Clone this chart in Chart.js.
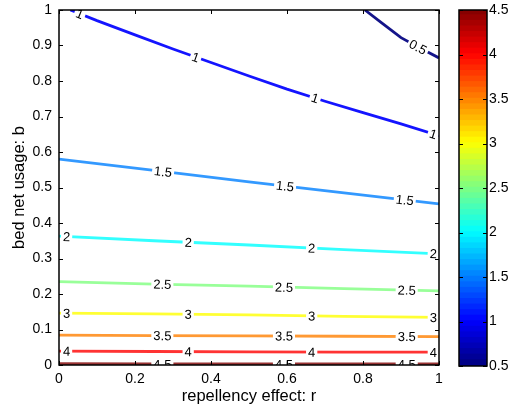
<!DOCTYPE html>
<html>
<head>
<title>contour</title>
<script src="https://cdn.jsdelivr.net/npm/chart.js@4.4.0/dist/chart.umd.min.js"></script>
<style>
body{margin:0;background:#fff;}
#wrap{position:relative;width:510px;height:411px;}
#wrap canvas{position:absolute;top:0;}
</style>
</head>
<body>
<div id="wrap">
<canvas id="plot" width="510" height="411" style="left:0"></canvas>
<canvas id="cbar" width="70" height="411" style="left:440px"></canvas>
</div>
<script>
// contour levels and the traced lines (r on x, b on y)
const levels = [0.5, 1, 1.5, 2, 2.5, 3, 3.5, 4, 4.5];

const r05 = [0.805, 0.85, 0.9, 0.95, 1.0];
const b05 = [1.0, 0.963, 0.922, 0.893, 0.865];

const r1 = [0.03, 0.1, 0.2, 0.3, 0.4, 0.5, 0.6, 0.7, 0.8, 0.9, 1.0];
const b1 = [1.0, 0.970, 0.930, 0.890, 0.852, 0.814, 0.777, 0.743, 0.711, 0.679, 0.646];

const rGrid = [0, 0.25, 0.5, 0.75, 1];
const b15 = [0.580, 0.548, 0.516, 0.485, 0.454];
const b2  = [0.363, 0.350, 0.338, 0.325, 0.313];
const b25 = [0.235, 0.228, 0.222, 0.215, 0.209];
const b3  = [0.146, 0.144, 0.141, 0.137, 0.134];
const b35 = [0.084, 0.083, 0.082, 0.081, 0.080];
const b4  = [0.039, 0.038, 0.037, 0.036, 0.036];
const b45 = [0.004, 0.003, 0.003, 0.003, 0.003];

// where along r the inline labels sit
const lab05 = [0.945];
const lab1  = [0.055, 0.36, 0.674, 0.985];
const lab15 = [0.274, 0.595, 0.91];
const lab2  = [0.02, 0.34, 0.665, 0.985];
const lab25 = [0.272, 0.592, 0.915];
const lab3  = [0.02, 0.34, 0.665, 0.985];
const lab35 = [0.272, 0.592, 0.915];
const lab4  = [0.02, 0.34, 0.665, 0.985];
const lab45 = [0.272, 0.592, 0.915];

const xTicks = [0, 0.2, 0.4, 0.6, 0.8, 1];
const yTicks = [0, 0.1, 0.2, 0.3, 0.4, 0.5, 0.6, 0.7, 0.8, 0.9, 1];
const cbarTicks = [0.5, 1, 1.5, 2, 2.5, 3, 3.5, 4, 4.5];
const cMin = 0.5, cMax = 4.5;

const FONT = "'Liberation Sans', Arial, sans-serif";

function jet(t, alpha) {
    const c = v => Math.round(255 * Math.max(0, Math.min(1, v)));
    const r = c(1.5 - Math.abs(4 * t - 3));
    const g = c(1.5 - Math.abs(4 * t - 2));
    const b = c(1.5 - Math.abs(4 * t - 1));
    return 'rgba(' + r + ',' + g + ',' + b + ',' + (alpha || 1) + ')';
}
function levelColor(l) { return jet((l - cMin) / (cMax - cMin), l < 1.2 ? 0.92 : 0.8); }
const fmt = v => String(Math.round(v * 10) / 10);

const lineR = [r05, r1, rGrid, rGrid, rGrid, rGrid, rGrid, rGrid, rGrid];
const lineB = [b05, b1, b15, b2, b25, b3, b35, b4, b45];
const labR = [lab05, lab1, lab15, lab2, lab25, lab3, lab35, lab4, lab45];

const datasets = levels.map((l, i) => ({
    label: String(l),
    data: lineR[i].map((r, k) => ({ x: r, y: lineB[i][k] })),
    showLine: true,
    pointRadius: 0,
    borderColor: levelColor(l),
    borderWidth: 2.8,
    tension: 0
}));

function bAt(pts, r) {
    if (r <= pts[0].x) return pts[0].y;
    for (let k = 0; k < pts.length - 1; k++) {
        if (r >= pts[k].x && r <= pts[k + 1].x) {
            const f = (r - pts[k].x) / (pts[k + 1].x - pts[k].x);
            return pts[k].y + f * (pts[k + 1].y - pts[k].y);
        }
    }
    return pts[pts.length - 1].y;
}

const contourLabels = {
    id: 'contourLabels',
    afterDatasetsDraw(chart) {
        const ctx = chart.ctx, xs = chart.scales.x, ys = chart.scales.y, a = chart.chartArea;
        ctx.save();
        ctx.beginPath();
        ctx.rect(a.left, a.top, a.right - a.left, a.bottom - a.top);
        ctx.clip();
        ctx.font = '13px ' + FONT;
        ctx.textAlign = 'center';
        ctx.textBaseline = 'middle';
        chart.data.datasets.forEach((ds, i) => {
            labR[i].forEach(r => {
                const pts = ds.data;
                const px = xs.getPixelForValue(r), py = ys.getPixelForValue(bAt(pts, r));
                const r0 = Math.max(pts[0].x, r - 0.02), r1 = Math.min(pts[pts.length - 1].x, r + 0.02);
                const ang = Math.atan2(ys.getPixelForValue(bAt(pts, r1)) - ys.getPixelForValue(bAt(pts, r0)),
                    xs.getPixelForValue(r1) - xs.getPixelForValue(r0));
                const w = ctx.measureText(ds.label).width;
                ctx.save();
                ctx.translate(px, py);
                ctx.rotate(ang);
                ctx.fillStyle = '#fff';
                ctx.fillRect(-w / 2 - 2, -3, w + 4, 6);
                ctx.fillStyle = '#000';
                ctx.fillText(ds.label, 0, 1);
                ctx.restore();
            });
        });
        ctx.restore();
    }
};

const boxTicks = {
    id: 'boxTicks',
    afterDraw(chart) {
        const ctx = chart.ctx, a = chart.chartArea, xs = chart.scales.x, ys = chart.scales.y;
        const len = 4;
        ctx.save();
        ctx.strokeStyle = '#000';
        ctx.lineWidth = 1;
        ctx.beginPath();
        xTicks.forEach(v => {
            const p = Math.round(xs.getPixelForValue(v)) + 0.5;
            ctx.moveTo(p, a.bottom); ctx.lineTo(p, a.bottom - len);
            ctx.moveTo(p, a.top); ctx.lineTo(p, a.top + len);
        });
        yTicks.forEach(v => {
            const p = Math.round(ys.getPixelForValue(v)) + 0.5;
            ctx.moveTo(a.left, p); ctx.lineTo(a.left + len, p);
            ctx.moveTo(a.right, p); ctx.lineTo(a.right - len, p);
        });
        ctx.stroke();
        ctx.lineWidth = 1.5;
        ctx.strokeRect(a.left, a.top, a.right - a.left, a.bottom - a.top);
        ctx.restore();
    }
};

new Chart(document.getElementById('plot'), {
    type: 'scatter',
    data: { datasets: datasets },
    options: {
        responsive: false,
        animation: false,
        layout: { padding: { top: 10, right: 71, left: 0, bottom: 0 } },
        plugins: { legend: { display: false }, tooltip: { enabled: false } },
        scales: {
            x: {
                type: 'linear', min: 0, max: 1,
                afterBuildTicks: s => { s.ticks = xTicks.map(v => ({ value: v })); },
                afterFit: s => { s.height = 46; s.paddingLeft = 0; s.paddingRight = 0; },
                grid: { display: false, drawTicks: false },
                border: { display: false },
                ticks: { color: '#000', font: { size: 14, family: FONT }, padding: 6, maxRotation: 0, callback: fmt },
                title: { display: true, text: 'repellency effect: r', color: '#000',
                    font: { size: 16.5, family: FONT }, padding: { top: 0, bottom: 5 } }
            },
            y: {
                type: 'linear', min: 0, max: 1,
                afterBuildTicks: s => { s.ticks = yTicks.map(v => ({ value: v })); },
                afterFit: s => { s.width = 59; s.paddingTop = 0; s.paddingBottom = 0; },
                grid: { display: false, drawTicks: false },
                border: { display: false },
                ticks: { color: '#000', font: { size: 14, family: FONT }, padding: 7, callback: fmt },
                title: { display: true, text: 'bed net usage: b', color: '#000',
                    font: { size: 16.5, family: FONT }, padding: { top: 10, bottom: 0 } }
            }
        }
    },
    plugins: [contourLabels, boxTicks]
});

// colour bar: 64 jet bands
const nBands = 64;
const bandSets = [];
for (let i = 0; i < nBands; i++) {
    const lo = cMin + (cMax - cMin) * i / nBands;
    const hi = cMin + (cMax - cMin) * (i + 1) / nBands;
    bandSets.push({
        data: [[lo, Math.min(cMax, hi + 0.01)]],
        backgroundColor: jet((i + 0.5) / nBands),
        borderWidth: 0,
        grouped: false,
        barPercentage: 1,
        categoryPercentage: 1
    });
}

const cbarBox = {
    id: 'cbarBox',
    afterDraw(chart) {
        const ctx = chart.ctx, a = chart.chartArea, ys = chart.scales.y;
        ctx.save();
        ctx.strokeStyle = '#000';
        ctx.lineWidth = 1;
        ctx.beginPath();
        cbarTicks.forEach(v => {
            const p = Math.round(ys.getPixelForValue(v)) + 0.5;
            ctx.moveTo(a.right, p); ctx.lineTo(a.right - 4, p);
            ctx.moveTo(a.left, p); ctx.lineTo(a.left + 4, p);
        });
        ctx.stroke();
        ctx.lineWidth = 1.5;
        ctx.strokeRect(a.left, a.top, a.right - a.left, a.bottom - a.top);
        ctx.restore();
    }
};

new Chart(document.getElementById('cbar'), {
    type: 'bar',
    data: { labels: [''], datasets: bandSets },
    options: {
        responsive: false,
        animation: false,
        layout: { padding: { top: 10, left: 19, bottom: 45, right: 0 } },
        plugins: { legend: { display: false }, tooltip: { enabled: false } },
        scales: {
            x: { display: false },
            y: {
                type: 'linear', min: cMin, max: cMax, position: 'right',
                afterBuildTicks: s => { s.ticks = cbarTicks.map(v => ({ value: v })); },
                afterFit: s => { s.width = 23; s.paddingTop = 0; s.paddingBottom = 0; },
                grid: { display: false, drawTicks: false },
                border: { display: false },
                ticks: { color: '#000', font: { size: 14, family: FONT }, padding: 2, callback: fmt }
            }
        }
    },
    plugins: [cbarBox]
});
</script>
</body>
</html>
